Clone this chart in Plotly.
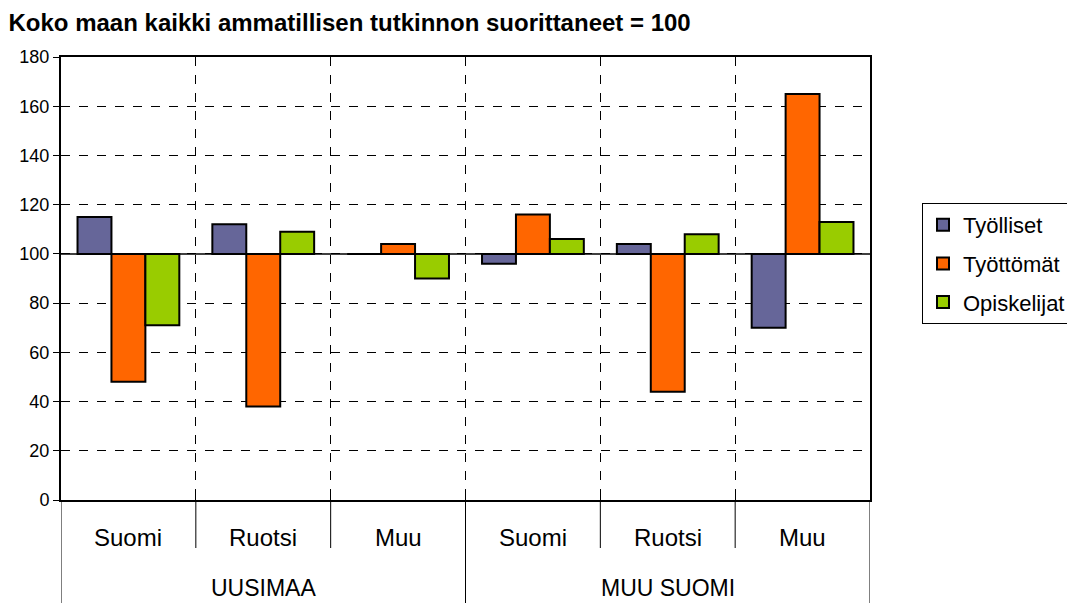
import plotly.graph_objects as go

groups = ["UUSIMAA", "MUU SUOMI"]
subcats = ["Suomi", "Ruotsi", "Muu"]
series_names = ["Työlliset", "Työttömät", "Opiskelijat"]
tyolliset = [115, 112, 100, 96, 104, 70]
tyottomat = [48, 38, 104, 116, 44, 165]
opiskelijat = [71, 109, 90, 106, 108, 113]
colors = ["#666699", "#FF6600", "#99CC00"]
base_value = 100
y_ticks = list(range(0, 181, 20))
title_text = "Koko maan kaikki ammatillisen tutkinnon suorittaneet = 100"

cat_labels = [s for g in groups for s in subcats]
xpos = list(range(len(cat_labels)))
n = len(cat_labels)

fig = go.Figure()
for name, vals, col in zip(series_names, [tyolliset, tyottomat, opiskelijat], colors):
    fig.add_trace(go.Bar(
        x=xpos, y=[v - base_value for v in vals], base=base_value,
        name=name, legendgroup=name,
        marker=dict(color=col, line=dict(color="black", width=2)),
        hovertext=[f"{name}: {v}" for v in vals], hoverinfo="text",
    ))

font = "Liberation Sans, Arial, sans-serif"
W, H = 1067, 595
fig.update_layout(
    width=W, height=H,
    margin=dict(l=53, r=205, t=49, b=103, autoexpand=False),
    paper_bgcolor="white", plot_bgcolor="white",
    barmode="group", bargap=0.245, bargroupgap=0,
    font=dict(family=font, size=18, color="black"),
    title=dict(text="<b>" + title_text + "</b>", x=0.5/W, xref="container", xanchor="left",
               y=1 - 15/H, yref="container", yanchor="middle",
               font=dict(family=font, size=24, color="black")),
    showlegend=True,
    legend=dict(x=(914 - 53) / 809, y=(492 - 195) / 443, xanchor="left", yanchor="top",
                bordercolor="black", borderwidth=1, bgcolor="white",
                font=dict(family=font, size=22), itemwidth=30, tracegroupgap=7,
                traceorder="grouped"),
    xaxis=dict(range=[-0.5, n - 0.5], tickvals=[i + 0.5 for i in range(n - 1)],
               ticktext=[""] * (n - 1), ticks="inside", ticklen=8, tickcolor="black",
               showgrid=True, gridcolor="black", griddash="dash", gridwidth=1,
               showline=True, linecolor="black", linewidth=2, mirror=True, zeroline=False,
               fixedrange=True),
    yaxis=dict(range=[0, 180], tickvals=y_ticks, ticks="outside", ticklen=6, tickcolor="black",
               showgrid=True, gridcolor="black", griddash="dash", gridwidth=1,
               showline=True, linecolor="black", linewidth=2, mirror=True, zeroline=False,
               tickfont=dict(size=18)),
)

# baseline at 100
fig.add_shape(type="line", xref="paper", yref="y", x0=0, x1=1, y0=base_value, y1=base_value,
              line=dict(color="black", width=1.5))

# category dividers below the axis
sub_bottom = -48/443
grp_bottom = -104/443
for i in range(n + 1):
    b = i - 0.5
    if i in (0, n) or i % len(subcats) == 0:
        y1 = grp_bottom
    else:
        y1 = sub_bottom
    fig.add_shape(type="line", xref="x", yref="paper", x0=b, x1=b, y0=0, y1=y1,
                  line=dict(color="black", width=1))

for i, lab in enumerate(cat_labels):
    fig.add_annotation(x=i, y=-37/443, xref="x", yref="paper", text=lab, showarrow=False,
                       font=dict(family=font, size=24), yanchor="middle")
for gi, g in enumerate(groups):
    cx = gi * len(subcats) + (len(subcats) - 1) / 2
    fig.add_annotation(x=cx, y=-88/443, xref="x", yref="paper", text=g, showarrow=False,
                       font=dict(family=font, size=23), yanchor="middle")

fig.write_html("out.html")
